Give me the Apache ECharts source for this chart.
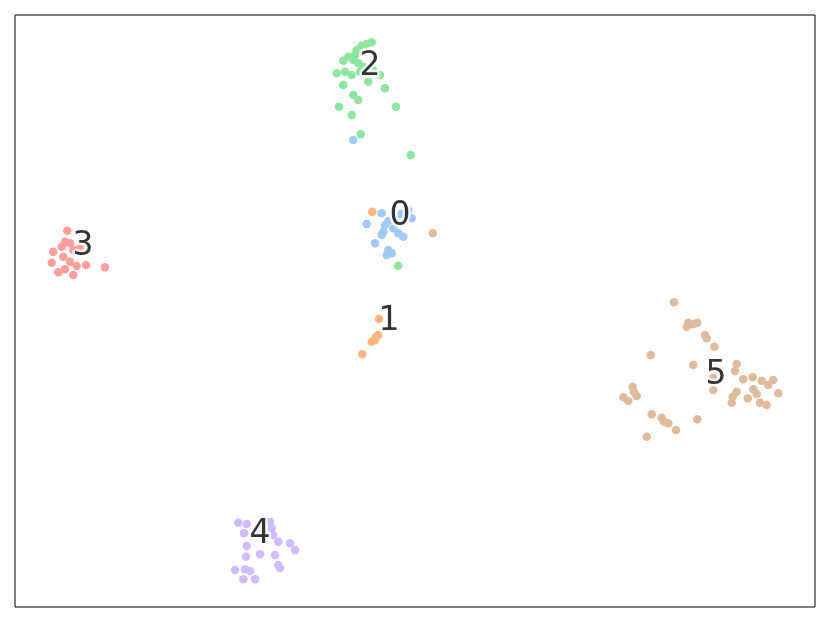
<!DOCTYPE html>
<html>
<head>
<meta charset="utf-8">
<script src="https://cdn.jsdelivr.net/npm/echarts@6/dist/echarts.min.js"></script>
<style>
  html, body { margin: 0; padding: 0; background: #fff; }
  #chart { width: 830px; height: 623px; }
</style>
</head>
<body>
<div id="chart"></div>
<script>
// point positions (x right, y down)
const cluster0 = [[381.7,213.3],[366.7,224],[385,225],[388.3,221],[383.3,231.7],[393.3,228.3],[398.3,233.3],
  [403.3,236.7],[381.7,235],[375,243.3],[388.3,250],[391.7,253.3],[386.7,255],[408.3,210],[411.7,218.3],
  [401,214],[353.3,140]]
const cluster1 = [[379,319],[375,340],[378.3,335],[371.7,341.7],[362.3,354.3],[376,337],[372.3,211.7]]
const cluster2 = [[371.7,42.3],[366.7,44],[361.7,45.7],[356.7,50],[355,55],[348.3,56.7],[343.3,60.7],[353.3,60],
  [358.3,63.3],[336.7,73.3],[345,71.7],[351.7,75],[360,71.7],[363.3,66.7],[368.3,81.7],[380,75],[343.3,85],
  [353.3,95],[358.3,100],[339,106.7],[351.7,115],[385,88.3],[396,106.7],[360.7,134.3],[410.7,155],
  [373,70],[398.3,265.7]]
const cluster3 = [[67.3,230.7],[65,241.7],[70,243.3],[61.7,246.7],[53.3,251.7],[73.3,250],[63.3,256.7],[70,261.7],
  [51.7,262.7],[76.7,266],[86,265],[105,267.3],[65,269.3],[58.3,272.3],[73.3,275],[80,248]]
const cluster4 = [[238.3,522.7],[246.7,524],[270,521.7],[271.7,528.3],[244,533.3],[273,535],[278.3,541.7],
  [290,543.3],[295,550],[246.7,546],[260,554.3],[275,555],[246,556.7],[278.3,565],[280,568.3],[235,570],
  [245,569.3],[250,571],[243.3,579.3],[255,579.3],[258,530]]
const cluster5 = [[674,302.3],[688.3,322.7],[697.3,322.7],[686.7,326.7],[692.7,324.3],[705,335],[706.7,338.3],
  [714.3,346.7],[650.7,355],[693.3,365],[736.7,364],[735,371],[743.3,379.3],[752.7,377.3],[761.7,380.7],
  [773.3,380],[768.3,385],[778.3,393.3],[753.3,389.3],[756.7,394],[736.7,391.7],[732.7,396.7],[731.7,402.7],
  [747.7,398.3],[760,402.7],[766.7,405],[713.3,378.3],[713.3,390],[632.7,386.7],[634,391.7],[623.3,397.3],
  [628.3,401],[636.7,396],[651.7,414.3],[661.7,417.7],[664,421.7],[668.3,423.3],[676,430],[697.3,419.3],
  [646.7,436.7],[432.7,233.3]]

const clusters = [cluster0, cluster1, cluster2, cluster3, cluster4, cluster5]
const labelNames = ['0', '1', '2', '3', '4', '5']
const labelPos = [[400,216],[389,321],[370,66],[83,246],[260,534],[716,375]]
const colors = ['#a1c9f4', '#ffb482', '#8de5a1', '#ff9f9b', '#d0bbff', '#debb9b']

const chart = echarts.init(document.getElementById('chart'), null, {renderer: 'canvas'})

const series = clusters.map((pts, i) => ({
  type: 'scatter',
  data: pts,
  symbolSize: 8.5,
  itemStyle: {color: colors[i], opacity: 1},
  silent: true,
}))

// cluster number labels with white halo
series.push({
  type: 'scatter',
  data: labelPos.map((p, i) => ({value: p, name: labelNames[i]})),
  symbolSize: 1,
  itemStyle: {color: 'transparent'},
  label: {
    show: true,
    position: 'inside',
    formatter: p => p.name,
    fontFamily: 'DejaVu Sans',
    fontSize: 33,
    color: '#000',
    textBorderColor: '#fff',
    textBorderWidth: 5,
  },
  z: 10,
  silent: true,
})

chart.setOption({
  animation: false,
  grid: {
    left: 15, top: 15, width: 800, height: 592,
    show: true, borderColor: '#000', borderWidth: 1, backgroundColor: 'transparent',
  },
  xAxis: {
    type: 'value', min: 15, max: 815,
    show: false,
  },
  yAxis: {
    type: 'value', min: 15, max: 607, inverse: true,
    show: false,
  },
  series,
})
</script>
</body>
</html>
